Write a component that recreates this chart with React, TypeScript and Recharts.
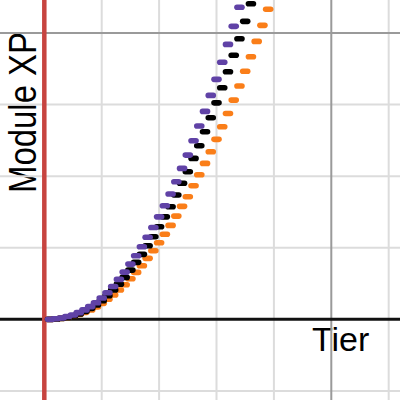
import { ScatterChart, Scatter, XAxis, YAxis, ReferenceLine, Customized } from "recharts";

// Module XP per tier (tier = index + 1)
const purpleXp = [
  0, 4, 10, 20, 31, 47, 66, 89, 116, 149, 186, 230, 279, 330, 386, 444, 507,
  573, 642, 716, 793, 875, 961, 1054, 1147, 1247, 1350, 1452, 1564, 1676, 1795,
  1920, 2046, 2179,
];
const blackXp = [
  0, 3, 7, 14, 24, 38, 56, 77, 101, 130, 165, 205, 246, 293, 344, 398, 454,
  514, 577, 647, 716, 786, 868, 950, 1031, 1124, 1212, 1310, 1408, 1512, 1617,
  1729, 1844, 1959, 2081, 2204,
];
const orangeXp = [
  0, 3, 7, 14, 24, 35, 49, 66, 87, 112, 140, 170, 205, 242, 284, 328, 374,
  426, 479, 535, 594, 656, 721, 789, 856, 933, 1010, 1089, 1170, 1257, 1345,
  1438, 1531, 1629, 1732, 1834, 1941, 2053, 2165,
];

const xMinorTicks = [10, 20, 30, 40, 60];
const xMajorTicks = [50];
const yMinorTicks = [-500, 500, 1000, 1500];
const yMajorTicks = [2000];

const toPoints = (arr: number[]) => arr.map((xp, i) => ({ tier: i + 1, xp }));

const dash = (color: string) => (props: any) => {
  const { cx, cy } = props;
  if (cx == null || cy == null) return <g />;
  return (
    <rect x={cx - 5.3} y={cy - 2.8} width={10.6} height={5.6} rx={2.8} fill={color} />
  );
};

const Labels = () => (
  <g fontFamily="'Liberation Sans', Arial, sans-serif" fill="#000">
    <text
      transform="translate(36,193) rotate(-90)"
      fontSize={39}
      textLength={161}
      lengthAdjust="spacingAndGlyphs"
    >
      Module XP
    </text>
    <text x={312} y={351} fontSize={34}>
      Tier
    </text>
  </g>
);

export default function App() {
  return (
    <div style={{ position: "absolute", left: 0, top: 0, width: 400, height: 400, background: "#fff" }}>
      <ScatterChart width={400} height={400} margin={{ top: 0, right: 0, bottom: 0, left: 0 }}>
        <XAxis type="number" dataKey="tier" domain={[-7.72, 61.97]} hide allowDataOverflow />
        <YAxis type="number" dataKey="xp" domain={[-563, 2230]} hide allowDataOverflow />
        {xMinorTicks.map((v) => (
          <ReferenceLine key={"xm" + v} x={v} stroke="#dcdcdc" strokeWidth={2} />
        ))}
        {yMinorTicks.map((v) => (
          <ReferenceLine key={"ym" + v} y={v} stroke="#dcdcdc" strokeWidth={2} />
        ))}
        {xMajorTicks.map((v) => (
          <ReferenceLine key={"xM" + v} x={v} stroke="#9a9a9a" strokeWidth={2} />
        ))}
        {yMajorTicks.map((v) => (
          <ReferenceLine key={"yM" + v} y={v} stroke="#9a9a9a" strokeWidth={2} />
        ))}
        <ReferenceLine y={0} stroke="#111" strokeWidth={3} />
        <ReferenceLine x={0} stroke="#c74440" strokeWidth={4.5} />
        <Scatter data={toPoints(orangeXp)} shape={dash("#fa7e19")} isAnimationActive={false} />
        <Scatter data={toPoints(blackXp)} shape={dash("#000000")} isAnimationActive={false} />
        <Scatter data={toPoints(purpleXp)} shape={dash("#6042a6")} isAnimationActive={false} />
        <Customized component={Labels} />
      </ScatterChart>
    </div>
  );
}
